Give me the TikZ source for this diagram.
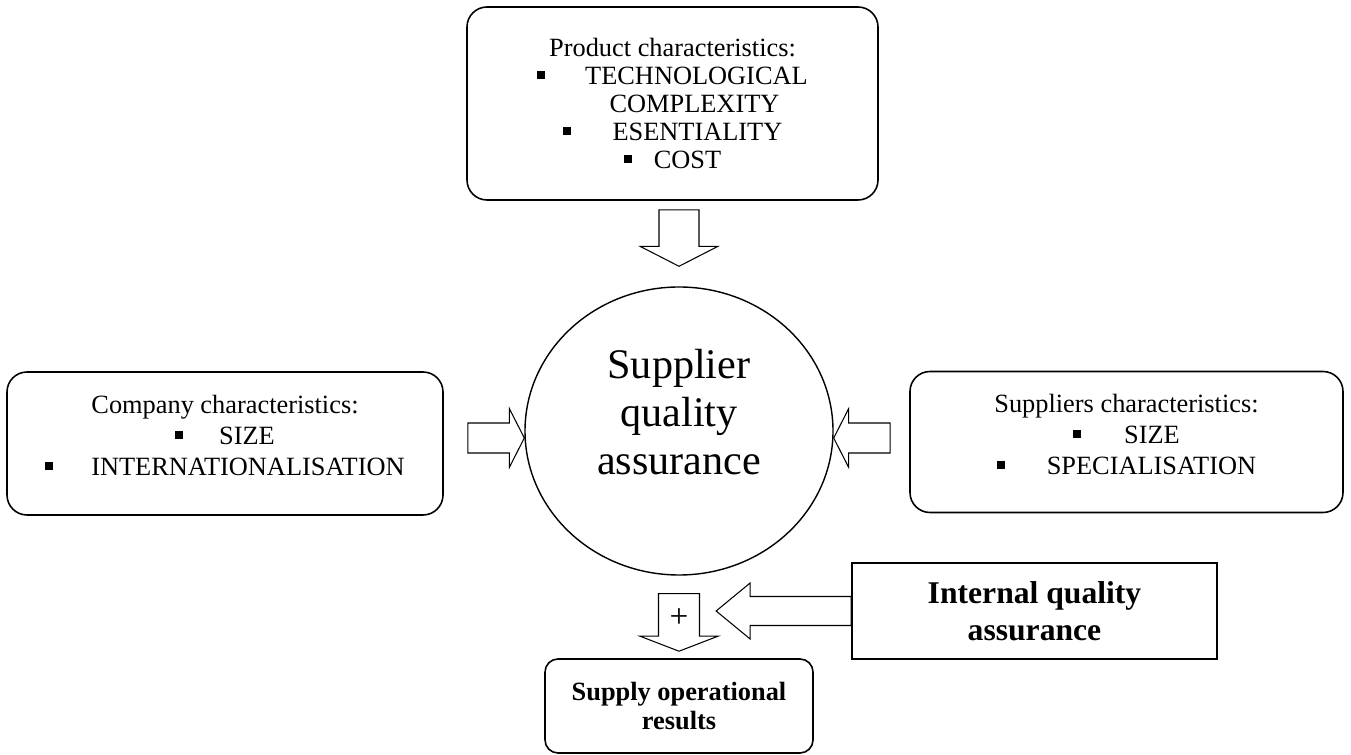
\documentclass[tikz,border=0pt]{standalone}
\usepackage{fontspec}
\setmainfont{Liberation Serif}
\usetikzlibrary{positioning, shapes.geometric, calc}

\newcommand{\sqbullet}{\rule[0.2em]{0.3em}{0.3em}}
% hollow block arrow: start, tip, shaft half width, head half width, head length
\newcommand{\fatarrow}[5]{%
  \coordinate (fa-h) at ($(#2)!#5!(#1)$);
  \draw[blockarrow] ($(#1)!#3!90:(#2)$) -- ($(fa-h)!#3!90:(#2)$)
    -- ($(fa-h)!#4!90:(#2)$) -- (#2) -- ($(fa-h)!#4!-90:(#2)$)
    -- ($(fa-h)!#3!-90:(#2)$) -- ($(#1)!#3!-90:(#2)$) -- cycle;
}

\begin{document}
\begin{tikzpicture}[
    roundbox/.style={draw, line width=0.9pt, rounded corners=0.4cm, align=center,
        font=\fontsize{15}{17.5}\selectfont},
    plainbox/.style={draw, line width=1pt, align=center},
    blockarrow/.style={draw, line width=0.6pt, line join=miter}
    ]
    \useasboundingbox (0,0) rectangle (27.02,15.1);

    % Characteristics
    \node[roundbox, minimum width=8.22cm, minimum height=3.86cm,
        font=\fontsize{15}{15.9}\selectfont] (prod) at (13.45,13.03)
        {Product characteristics:\\
         \sqbullet\hspace{0.8cm}TECHNOLOGICAL\\
         \hspace*{0.88cm}COMPLEXITY\\
         \sqbullet\hspace{0.84cm}ESENTIALITY\\
         \sqbullet\hspace{0.44cm}COST};

    \node[roundbox, minimum width=8.72cm, minimum height=2.86cm, text depth=0.32cm]
        (comp) at (4.5,6.23)
        {Company characteristics:\\
         \sqbullet\hspace{0.72cm}SIZE\\
         \sqbullet\hspace{0.76cm}INTERNATIONALISATION};

    \node[roundbox, minimum width=8.66cm, minimum height=2.82cm, text depth=0.3cm]
        (supp) at (22.53,6.26)
        {Suppliers characteristics:\\
         \sqbullet\hspace{0.86cm}SIZE\\
         \sqbullet\hspace{0.84cm}SPECIALISATION};

    % Centre
    \node[ellipse, draw, line width=0.8pt, minimum width=6.16cm, minimum height=5.76cm,
        inner sep=0pt] (sqa) at (13.58,6.48) {};
    \node[align=center, font=\fontsize{24}{27.3}\selectfont] (sqalabel)
        at ($(sqa.center)+(0,0.38)$) {Supplier\\quality\\assurance};

    % Results
    \node[plainbox, minimum width=7.3cm, minimum height=1.92cm,
        font=\bfseries\fontsize{18}{21}\selectfont] (iqa) at (20.69,2.88)
        {Internal quality\\assurance};
    \node[roundbox, rounded corners=0.26cm, minimum width=5.36cm, minimum height=1.88cm,
        font=\bfseries\fontsize{15}{17}\selectfont] (res) at (13.58,0.98)
        {Supply operational\\results};

    % Arrows
    \coordinate (pa-s) at ($(prod.south -| sqa.north)+(0,-0.18)$);
    \coordinate (pa-t) at ($(sqa.north)+(0,0.4)$);
    \fatarrow{pa-s}{pa-t}{0.4cm}{0.78cm}{0.4cm}

    \coordinate (ca-s) at ($(comp.east)+(0.48,0.11)$);
    \coordinate (ca-t) at (sqa.west |- ca-s);
    \fatarrow{ca-s}{ca-t}{0.3cm}{0.59cm}{0.3cm}

    \coordinate (sa-s) at ($(supp.west)+(-0.38,0.08)$);
    \coordinate (sa-t) at (sqa.east |- sa-s);
    \fatarrow{sa-s}{sa-t}{0.3cm}{0.59cm}{0.3cm}

    \coordinate (ia-t) at ($(iqa.west)+(-2.7,0)$);
    \fatarrow{iqa.west}{ia-t}{0.29cm}{0.56cm}{0.68cm}

    \coordinate (ra-s) at ($(sqa.south)+(0,-0.36)$);
    \coordinate (ra-t) at ($(res.north)+(0,0.14)$);
    \fatarrow{ra-s}{ra-t}{0.41cm}{0.78cm}{0.3cm}
    \node[font=\fontsize{19}{21}\selectfont] (plus) at ($(ra-s)!0.42!(ra-t)$) {+};
\end{tikzpicture}
\end{document}
